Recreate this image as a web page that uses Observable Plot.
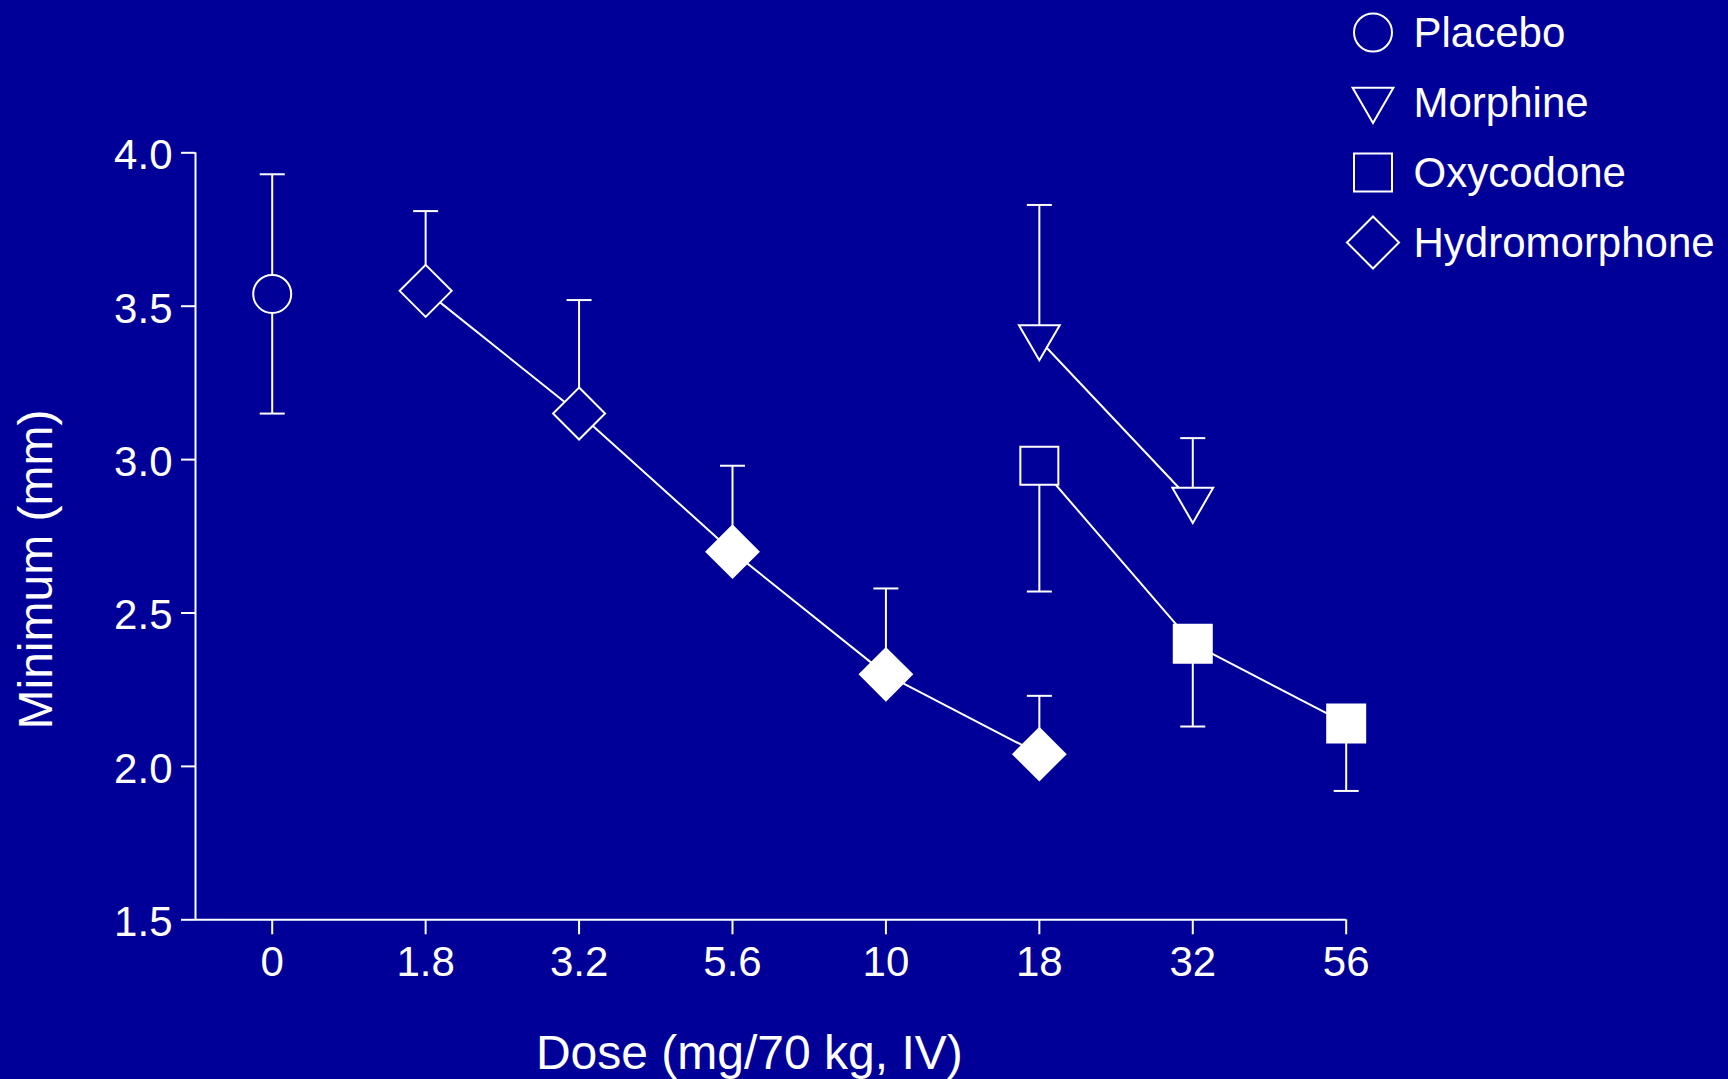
<!DOCTYPE html>
<html>
<head>
<meta charset="utf-8">
<script src="https://cdn.jsdelivr.net/npm/d3@7"></script>
<script src="https://cdn.jsdelivr.net/npm/@observablehq/plot@0.6"></script>
<style>
  html, body { margin: 0; padding: 0; background: #000099; overflow: hidden; }
  #wrap { position: relative; width: 1728px; height: 1079px; }
  #chart { position: absolute; left: 0; top: 0; }
  #legend { position: absolute; left: 1320px; top: 0; }
  svg { display: block; }
</style>
</head>
<body>
<div id="wrap"><div id="chart"></div><div id="legend"></div></div>
<script>
// ---------- data ----------
const doseLabels = ["0", "1.8", "3.2", "5.6", "10", "18", "32", "56"];
const yTicks = [1.5, 2.0, 2.5, 3.0, 3.5, 4.0];
const seriesNames = ["Placebo", "Morphine", "Oxycodone", "Hydromorphone"];
const xTitle = "Dose (mg/70 kg, IV)";
const yTitle = "Minimum (mm)";

const placeboDose = ["0"];
const placeboMean = [3.54];
const placeboLow = [3.15];
const placeboHigh = [3.93];

const morphineDose = ["18", "32"];
const morphineMean = [3.39, 2.86];
const morphineHigh = [3.83, 3.07];
const morphineFilled = [false, false];

const oxycodoneDose = ["18", "32", "56"];
const oxycodoneMean = [2.98, 2.40, 2.14];
const oxycodoneLow = [2.57, 2.13, 1.92];
const oxycodoneFilled = [false, true, true];

const hydromorphoneDose = ["1.8", "3.2", "5.6", "10", "18"];
const hydromorphoneMean = [3.55, 3.15, 2.70, 2.30, 2.04];
const hydromorphoneHigh = [3.81, 3.52, 2.98, 2.58, 2.23];
const hydromorphoneFilled = [false, false, true, true, true];

// ---------- styling ----------
const BG = "#000099";
const FG = "white";
const FONT = "'Liberation Sans', Arial, Helvetica, sans-serif";

const rOf = size => Math.sqrt(size / Math.PI);
const symbols = {
  circle: { draw(c, size) { const r = rOf(size); c.moveTo(r, 0); c.arc(0, 0, r, 0, 2 * Math.PI); c.closePath(); } },
  square: { draw(c, size) { const r = rOf(size); c.rect(-r, -r, 2 * r, 2 * r); } },
  diamond: { draw(c, size) { const r = rOf(size); c.moveTo(0, -r); c.lineTo(r, 0); c.lineTo(0, r); c.lineTo(-r, 0); c.closePath(); } },
  triangleDown: { draw(c, size) { const r = rOf(size); c.moveTo(-1.02 * r, -0.74 * r); c.lineTo(1.02 * r, -0.74 * r); c.lineTo(0, 1.02 * r); c.closePath(); } },
  cap: { draw(c, size) { const r = rOf(size); c.moveTo(-r, 0); c.lineTo(r, 0); } }
};
const seriesStyle = {
  Placebo: { symbol: symbols.circle, r: 19 },
  Morphine: { symbol: symbols.triangleDown, r: 20 },
  Oxycodone: { symbol: symbols.square, r: 19 },
  Hydromorphone: { symbol: symbols.diamond, r: 26 }
};

// ---------- table ----------
function build(name, doses, means, lows, highs, filled) {
  return doses.map((d, i) => ({
    series: name,
    dose: d,
    xi: doseLabels.indexOf(d),
    y: means[i],
    lo: lows ? lows[i] : means[i],
    hi: highs ? highs[i] : means[i],
    hasLo: !!lows,
    hasHi: !!highs,
    filled: filled ? filled[i] : false
  }));
}
const rows = [
  ...build("Placebo", placeboDose, placeboMean, placeboLow, placeboHigh, null),
  ...build("Morphine", morphineDose, morphineMean, null, morphineHigh, morphineFilled),
  ...build("Oxycodone", oxycodoneDose, oxycodoneMean, oxycodoneLow, null, oxycodoneFilled),
  ...build("Hydromorphone", hydromorphoneDose, hydromorphoneMean, null, hydromorphoneHigh, hydromorphoneFilled)
];
const caps = rows.flatMap(r => [
  r.hasLo ? { xi: r.xi, y: r.lo } : null,
  r.hasHi ? { xi: r.xi, y: r.hi } : null
].filter(Boolean));

const markerMarks = seriesNames.flatMap(name => {
  const st = seriesStyle[name];
  const data = rows.filter(r => r.series === name);
  return [
    Plot.dot(data.filter(r => !r.filled), { x: "xi", y: "y", symbol: st.symbol, r: st.r, fill: BG, stroke: FG, strokeWidth: 2 }),
    Plot.dot(data.filter(r => r.filled), { x: "xi", y: "y", symbol: st.symbol, r: st.r, fill: FG, stroke: FG, strokeWidth: 2 })
  ];
});

const chart = Plot.plot({
  width: 1728,
  height: 1079,
  marginTop: 152.3,
  marginBottom: 159.7,
  marginLeft: 195,
  marginRight: 382.3,
  style: { background: "transparent", color: FG, fontFamily: FONT, fontSize: "42px", overflow: "visible" },
  x: { domain: [-0.5, doseLabels.length - 1] },
  y: { domain: [yTicks[0], yTicks[yTicks.length - 1]] },
  marks: [
    Plot.ruleY([yTicks[0]], { stroke: FG, strokeWidth: 2 }),
    Plot.ruleX([-0.5], { stroke: FG, strokeWidth: 2 }),
    Plot.line(rows.filter(r => r.series !== "Placebo"), { x: "xi", y: "y", z: "series", stroke: FG, strokeWidth: 2 }),
    Plot.ruleX(rows, { x: "xi", y1: "lo", y2: "hi", stroke: FG, strokeWidth: 2 }),
    Plot.dot(caps, { x: "xi", y: "y", symbol: symbols.cap, r: 12.5, fill: "none", stroke: FG, strokeWidth: 2 }),
    ...markerMarks,
    // y axis: ticks and labels
    Plot.axisY({ ticks: yTicks, tickSize: 14, strokeWidth: 2, fill: "none", label: null }),
    Plot.axisY({ ticks: yTicks, tickSize: 14, tickPadding: 9, stroke: "none", fill: FG, tickFormat: d3.format(".1f"), fontSize: 42, dy: 3, label: null }),
    // x axis: ticks and labels
    Plot.axisX({ ticks: doseLabels.map((_, i) => i), tickSize: 15, strokeWidth: 2, fill: "none", label: null }),
    Plot.axisX({ ticks: doseLabels.map((_, i) => i), tickSize: 15, tickPadding: 11, stroke: "none", fill: FG, tickFormat: i => doseLabels[i], fontSize: 42, label: null }),
    // axis titles
    Plot.text([xTitle], { text: d => d, frameAnchor: "bottom", textAnchor: "middle", lineAnchor: "middle", dx: -21.5, dy: 133.6, fontSize: 48, fill: FG }),
    Plot.text([yTitle], { text: d => d, frameAnchor: "left", textAnchor: "middle", lineAnchor: "middle", rotate: -90, dx: -158.4, dy: 33.2, fontSize: 48, fill: FG })
  ]
});
document.getElementById("chart").appendChild(chart);

// ---------- legend ----------
const legend = Plot.plot({
  width: 408,
  height: 280,
  marginTop: 31,
  marginBottom: 36.3,
  marginLeft: 52.5,
  marginRight: 0,
  style: { background: "transparent", color: FG, fontFamily: FONT, overflow: "visible" },
  y: { type: "point", domain: seriesNames, padding: 0, axis: null },
  marks: [
    ...seriesNames.map(name => Plot.dot([name], { y: d => d, frameAnchor: "left", symbol: seriesStyle[name].symbol, r: seriesStyle[name].r, fill: BG, stroke: FG, strokeWidth: 2 })),
    Plot.text(seriesNames, { y: d => d, text: d => d, frameAnchor: "left", textAnchor: "start", lineAnchor: "middle", dx: 40.5, dy: 1, fontSize: 42, fill: FG })
  ]
});
document.getElementById("legend").appendChild(legend);
</script>
</body>
</html>
